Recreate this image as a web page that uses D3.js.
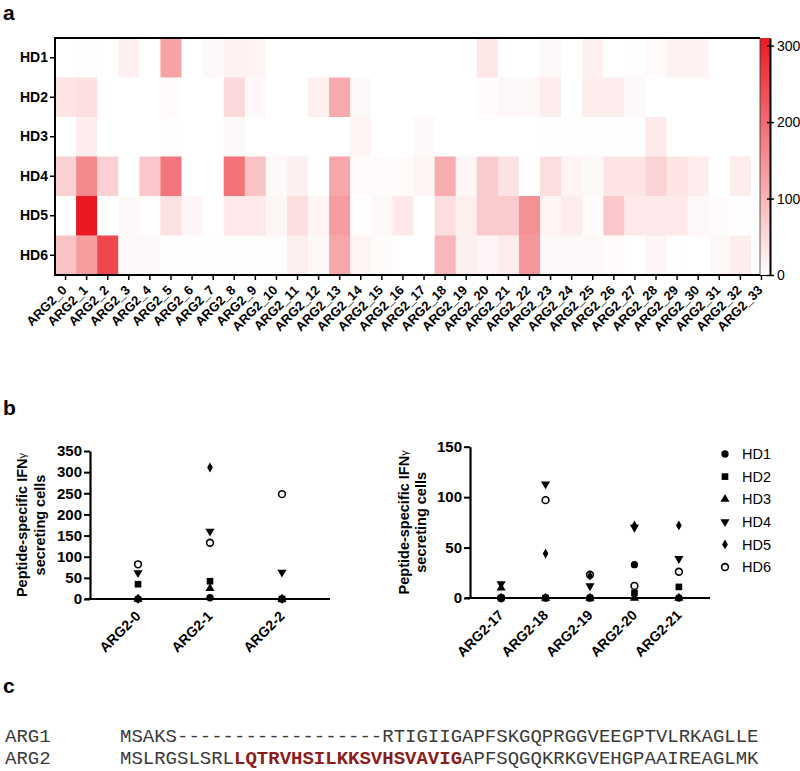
<!DOCTYPE html>
<html><head><meta charset="utf-8">
<script src="https://cdn.jsdelivr.net/npm/d3@7"></script>
<style>
body{margin:0;background:#fff;}
svg{display:block;}
</style></head><body>
<svg id="fig" width="800" height="771"></svg>
<script>
// ---------------- DATA ----------------
const donors = ["HD1","HD2","HD3","HD4","HD5","HD6"];
const peptides = ["ARG2_0","ARG2_1","ARG2_2","ARG2_3","ARG2_4","ARG2_5","ARG2_6","ARG2_7","ARG2_8","ARG2_9",
  "ARG2_10","ARG2_11","ARG2_12","ARG2_13","ARG2_14","ARG2_15","ARG2_16","ARG2_17","ARG2_18","ARG2_19",
  "ARG2_20","ARG2_21","ARG2_22","ARG2_23","ARG2_24","ARG2_25","ARG2_26","ARG2_27","ARG2_28","ARG2_29",
  "ARG2_30","ARG2_31","ARG2_32","ARG2_33"];
const hd1 = [0,3,0,20,0,125,0,8,18,15, 0,0,0,0,0,0,0,0,0,0, 33,0,0,10,0,20,0,3,6,18, 18,0,0,0];
const hd2 = [35,42,0,0,0,6,0,0,50,10, 0,0,22,115,8,0,0,0,0,0, 5,11,10,25,0,25,25,8,0,0, 0,0,0,0];
const hd3 = [0,25,0,0,0,3,0,0,8,0, 0,0,0,0,15,0,0,10,0,0, 0,0,0,2,2,2,2,2,30,0, 0,0,0,0];
const hd4 = [62,160,63,0,75,185,0,0,190,80, 10,20,0,120,6,6,6,14,113,12, 70,39,3,45,15,8,35,35,60,35, 25,0,25,0];
const hd5 = [0,311,0,8,4,40,12,0,30,30, 12,45,15,135,3,8,30,0,44,22, 72,72,150,15,25,5,75,30,30,30, 10,5,3,0];
const hd6 = [82,133,248,8,8,2,2,2,4,4, 4,22,8,120,15,6,0,0,97,23, 12,26,140,8,8,8,5,0,12,3, 0,8,25,0];
const colorTicks = [0,100,200,300];
const colorMax = 310;

const leftLabels = ["ARG2-0","ARG2-1","ARG2-2"];
const leftIndex = [0,1,2];
const leftYTicks = [0,50,100,150,200,250,300,350];
const rightLabels = ["ARG2-17","ARG2-18","ARG2-19","ARG2-20","ARG2-21"];
const rightIndex = [17,18,19,20,21];
const rightYTicks = [0,50,100,150];

const seqNames = ["ARG1","ARG2"];
const arg1Seq = "MSAKS------------------RTIGIIGAPFSKGQPRGGVEEGPTVLRKAGLLE";
const arg2Pre = "MSLRGSLSRL";
const arg2Hi = "LQTRVHSILKKSVHSVAVIG";
const arg2Post = "APFSQGQKRKGVEHGPAAIREAGLMK";

// ---------------- DRAW ----------------
const FONT = '"Liberation Sans", Arial, sans-serif';
const svg = d3.select("#fig").attr("font-family", FONT);
const heat = [hd1,hd2,hd3,hd4,hd5,hd6];

// panel letters
[["a",3,20],["b",3,415],["c",3,693]].forEach(([t,x,y])=>{
  svg.append("text").attr("x",x).attr("y",y).attr("font-size",21).attr("font-weight","bold").text(t);
});

// ---- Heatmap ----
const hx = d3.scaleBand().domain(peptides).range([55,772]);
const hy = d3.scaleBand().domain(donors).range([38,275]);
const color = d3.scaleLinear().domain([0,colorMax]).range(["#ffffff","#ea1a22"]);
const cells = [];
donors.forEach((d,i)=>peptides.forEach((p,j)=>cells.push({d,p,v:heat[i][j]})));
const gH = svg.append("g");
gH.selectAll("rect.cell").data(cells).join("rect").attr("class","cell")
  .attr("x",d=>hx(d.p)).attr("y",d=>hy(d.d))
  .attr("width",hx.bandwidth()+0.4).attr("height",hy.bandwidth()+0.4)
  .attr("fill",d=>color(d.v));

const xAxH = gH.append("g").attr("transform","translate(0,275)")
  .call(d3.axisBottom(hx).tickSize(5).tickSizeOuter(0));
xAxH.select(".domain").remove();
xAxH.selectAll("line").attr("stroke","#000").attr("stroke-width",1.5);
xAxH.selectAll("text").attr("x",0).attr("y",0).attr("dy",0)
  .attr("font-size",13).attr("font-weight","bold").attr("font-family",FONT).attr("fill","#000")
  .attr("text-anchor","end").attr("transform","translate(2,16) rotate(-45)");

const yAxH = gH.append("g").attr("transform","translate(55,0)")
  .call(d3.axisLeft(hy).tickSize(5).tickSizeOuter(0).tickPadding(2));
yAxH.select(".domain").remove();
yAxH.selectAll("line").attr("stroke","#000").attr("stroke-width",1.5);
yAxH.selectAll("text").attr("font-size",14).attr("font-weight","bold").attr("font-family",FONT).attr("fill","#000");

// frame
gH.append("path").attr("d","M55,38H760").attr("stroke","#000").attr("stroke-width",2);
gH.append("path").attr("d","M55,37V276").attr("stroke","#000").attr("stroke-width",2);
gH.append("path").attr("d","M54,275H770").attr("stroke","#000").attr("stroke-width",2);

// colour bar
const cy = d3.scaleLinear().domain([0,colorMax]).range([275,38]);
const defs = svg.append("defs");
const grad = defs.append("linearGradient").attr("id","cg").attr("x1",0).attr("y1",1).attr("x2",0).attr("y2",0);
d3.range(0,1.0001,0.1).forEach(t=>grad.append("stop").attr("offset",t).attr("stop-color",color(t*colorMax)));
gH.append("rect").attr("x",760).attr("y",38).attr("width",10).attr("height",237).attr("fill","url(#cg)");
gH.append("path").attr("d","M760,38V275").attr("stroke","#333").attr("stroke-width",0.8);
const cAx = gH.append("g").attr("transform","translate(770,0)")
  .call(d3.axisRight(cy).tickValues(colorTicks).tickSize(4).tickSizeOuter(0).tickPadding(3));
cAx.select(".domain").attr("stroke","#000").attr("stroke-width",2);
cAx.selectAll("line").attr("stroke","#000").attr("stroke-width",1.5).attr("x1",-3);
cAx.selectAll("text").attr("font-size",14).attr("font-family",FONT).attr("fill","#000");

// ---- Scatter plots ----
const symDefs = [
  {type:d3.symbolCircle, size:42, fill:"#000", rot:0},
  {type:d3.symbolSquare, size:44, fill:"#000", rot:0},
  {type:d3.symbolTriangle, size:36, fill:"#000", rot:0},
  {type:d3.symbolTriangle, size:36, fill:"#000", rot:180},
  {type:d3.symbolDiamond, size:28, fill:"#000", rot:0},
  {type:d3.symbolCircle, size:36, fill:"#fff", rot:0, stroke:"#000"}
];
function drawSym(g, i, x, y){
  const s = symDefs[i];
  g.append("path").attr("d", d3.symbol().type(s.type).size(s.size)())
    .attr("transform",`translate(${x},${y}) rotate(${s.rot})`)
    .attr("fill", s.fill).attr("stroke", s.stroke || "none").attr("stroke-width", s.stroke?1.6:0);
}

function scatter(cfg){
  const g = svg.append("g");
  const x = d3.scalePoint().domain(cfg.labels).range([cfg.x0,cfg.x1]).padding(cfg.pad);
  const y = d3.scaleLinear().domain([0,cfg.ymax]).range([cfg.yb,cfg.yt]);
  const yA = g.append("g").attr("transform",`translate(${cfg.x0},0)`)
    .call(d3.axisLeft(y).tickValues(cfg.yticks).tickSize(6).tickSizeOuter(0).tickPadding(2));
  yA.select(".domain").attr("stroke","#000").attr("stroke-width",2.2);
  yA.selectAll("line").attr("stroke","#000").attr("stroke-width",2);
  yA.selectAll("text").attr("font-size",15).attr("font-weight","bold").attr("font-family",FONT).attr("fill","#000");
  const xA = g.append("g").attr("transform",`translate(0,${cfg.yb})`)
    .call(d3.axisBottom(x).tickSize(0).tickSizeOuter(0));
  xA.select(".domain").attr("d",`M${cfg.x0-5},0H${cfg.x1}`).attr("stroke","#000").attr("stroke-width",2.2);
  xA.selectAll("text").attr("x",0).attr("y",0).attr("dy",0)
    .attr("font-size",14).attr("font-weight","bold").attr("font-family",FONT).attr("fill","#000")
    .attr("text-anchor","end").attr("transform","translate(3,18) rotate(-45)");
  // title
  const yc = (cfg.yb+cfg.yt)/2;
  const t1 = g.append("text").attr("transform",`translate(${cfg.tx1},${yc}) rotate(-90)`)
    .attr("text-anchor","middle").attr("dy","0.35em").attr("font-size",14.5).attr("font-weight","bold");
  t1.append("tspan").text("Peptide-specific IFN");
  t1.append("tspan").attr("font-size",11).attr("font-weight","normal").attr("dy","-0.1em").text("γ");
  g.append("text").attr("transform",`translate(${cfg.tx2},${yc}) rotate(-90)`)
    .attr("text-anchor","middle").attr("dy","0.35em").attr("font-size",14.5).attr("font-weight","bold")
    .text("secreting cells");
  // points (HD6 drawn first, HD1 last)
  cfg.labels.forEach((lab,k)=>{
    for(let i=donors.length-1;i>=0;i--){
      drawSym(g, i, x(lab), y(heat[i][cfg.index[k]]));
    }
  });
}
scatter({labels:leftLabels,index:leftIndex,x0:90,x1:330,pad:0.667,ymax:350,yb:599,yt:451,yticks:leftYTicks,tx1:22,tx2:40});
scatter({labels:rightLabels,index:rightIndex,x0:470,x1:710,pad:0.7,ymax:150,yb:598,yt:446.7,yticks:rightYTicks,tx1:404,tx2:421});

// legend
const lg = svg.append("g");
donors.forEach((d,i)=>{
  const yy = 454 + i*22.6;
  drawSym(lg, i, 725, yy);
  lg.append("text").attr("x",742).attr("y",yy).attr("dy","0.36em").attr("font-size",14.5).text(d);
});

// ---- Sequence alignment ----
const MONO = '"Liberation Mono", "DejaVu Sans Mono", monospace';
const sg = svg.append("g").attr("font-family",MONO).attr("font-size",19).attr("fill","#3a3a3a");
sg.append("text").attr("x",5).attr("y",742).text(seqNames[0]);
sg.append("text").attr("x",5).attr("y",764).text(seqNames[1]);
sg.append("text").attr("x",120).attr("y",742).text(arg1Seq);
const s2 = sg.append("text").attr("x",120).attr("y",764);
s2.append("tspan").text(arg2Pre);
s2.append("tspan").attr("font-weight","bold").attr("fill","#8b1c1c").text(arg2Hi);
s2.append("tspan").text(arg2Post);
</script>
</body></html>
